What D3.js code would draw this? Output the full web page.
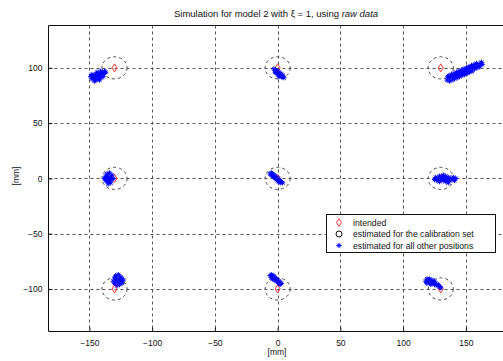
<!DOCTYPE html>
<html><head><meta charset="utf-8">
<script src="https://cdn.jsdelivr.net/npm/d3@7"></script>
<style>body{margin:0;background:#fff}svg{display:block}text{font-family:"Liberation Sans",Arial,sans-serif;fill:#111}</style>
</head><body><svg id="c" width="503" height="361"></svg>
<script>
const xTicks = [-150,-100,-50,0,50,100,150];
const yTicks = [-100,-50,0,50,100];
const intendedX = [-130,0,130];
const intendedY = [100,0,-100];
const circleRadius = 10;
const legendLabels = ["intended","estimated for the calibration set","estimated for all other positions"];
// estimated for all other positions (blue stars), per cluster
const clusterTL = [[-149,92],[-148,90],[-147,93],[-146,91],[-145,89],[-145,94],[-144,92],[-143,90],[-143,95],[-142,93],[-141,91],[-140,94],[-140,96],[-139,92],[-138,95],[-138,97],[-146,88],[-142,89],[-147,91],[-144,96],[-141,97],[-148,94],[-137,96]];
const clusterTM = [[-3,99],[-2,98],[-2,96],[-1,97],[0,95],[0,97],[1,94],[1,96],[2,93],[2,95],[3,92],[3,94],[4,92],[5,91],[-1,95],[1,92],[4,93.5]];
const clusterTR = [[135,89],[135.5,92],[137,88],[137.5,91],[136.5,93],[139,89],[139.5,92],[138.5,94],[141,90],[141.5,93],[140.5,95],[143,91],[143.5,94],[142.5,96],[145,92],[145.5,95],[144.5,97],[147,93],[147.5,96],[146.5,98],[149,94],[149.5,97],[148.5,99],[151,95],[151.5,98],[150.5,100],[153,96],[153.5,99],[152.5,101],[155,97],[155.5,100],[154.5,102],[157,99],[157.5,101],[156.5,103],[159,100],[159.5,102],[158.5,104],[161,101],[161.5,104],[163,103],[162.5,105]];
const clusterML = [[-138,0],[-137,2],[-137,-2],[-136,4],[-136,0],[-135,-3],[-135,2],[-134,5],[-134,-1],[-133,1],[-133,-4],[-132,3],[-132,-1],[-131,0],[-135,-5],[-136,-2]];
const clusterC = [[-6,4],[-5,5],[-5,3],[-4,4],[-4,2],[-3,3],[-3,1],[-2,2],[-2,0],[-1,1],[-1,-1],[0,0],[0,-2],[1,-1],[1,-3],[2,-2],[2,-4],[3,-3],[4,-4]];
const clusterMR = [[125,-1],[126,1],[127,-2],[128,0],[129,2],[129,-3],[130,-1],[131,1],[132,-2],[133,0],[134,2],[134,-3],[135,-1],[136,1],[137,-2],[138,0],[139,-1],[140,1],[141,-2],[142,0],[132,3],[136,-4]];
const clusterBL = [[-131,-93],[-130,-90],[-130,-95],[-129,-88],[-129,-92],[-128,-97],[-128,-90],[-127,-94],[-127,-87],[-126,-91],[-126,-96],[-125,-89],[-125,-93],[-124,-91],[-124,-95],[-123,-92],[-128,-93]];
const clusterBM = [[-6,-88],[-5,-87],[-5,-90],[-4,-89],[-3,-88],[-3,-91],[-2,-90],[-2,-92],[-1,-91],[-1,-93],[0,-92],[0,-94],[1,-93],[1,-95],[2,-94],[2,-96],[3,-95],[-4,-91]];
const clusterBR = [[118,-93],[119,-91],[119,-95],[120,-92],[121,-94],[121,-91],[122,-93],[123,-95],[123,-92],[124,-94],[125,-96],[125,-93],[126,-95],[127,-97],[128,-96],[129,-98],[130,-99],[122,-96]];

const svg = d3.select("#c");
const L=48.5, R=506, T=25.5, B=331.5;
const x = d3.scaleLinear().domain([-182.6,182]).range([L,R]);
const y = d3.scaleLinear().domain([-138.5,138.3]).range([B,T]);

// grid
const g = svg.append("g");
g.selectAll(".gx").data(xTicks).join("line")
 .attr("x1",d=>Math.round(x(d))+0.5).attr("x2",d=>Math.round(x(d))+0.5).attr("y1",T).attr("y2",B)
 .attr("stroke","#555").attr("stroke-dasharray","3,3");
g.selectAll(".gy").data(yTicks).join("line")
 .attr("y1",d=>Math.round(y(d))+0.5).attr("y2",d=>Math.round(y(d))+0.5).attr("x1",L).attr("x2",R)
 .attr("stroke","#555").attr("stroke-dasharray","3,3");

// axes
const xAxis = d3.axisBottom(x).tickValues(xTicks).tickSize(-4).tickPadding(8).tickFormat(d3.format("d"));
const yAxis = d3.axisLeft(y).tickValues(yTicks).tickSize(-4).tickPadding(6).tickFormat(d3.format("d"));
const ax = svg.append("g").attr("transform",`translate(0,${B})`).call(xAxis);
const ay = svg.append("g").attr("transform",`translate(${L},0)`).call(yAxis);
[ax,ay].forEach(a=>{a.select(".domain").remove();a.selectAll("line").attr("stroke","#111");a.selectAll("text").attr("font-size",8.5).attr("fill","#111").style("font-family",'"Liberation Sans",Arial,sans-serif');});
ax.selectAll("text").attr("dy","0.71em");
// box
svg.append("path").attr("d",`M${R},${T}H${L}V${B}H${R}`).attr("fill","none").attr("stroke","#111");

const positions = [];
intendedY.forEach(py=>intendedX.forEach(px=>positions.push([px,py])));

// circles
svg.append("g").selectAll("ellipse").data(positions).join("ellipse")
 .attr("cx",d=>x(d[0])).attr("cy",d=>y(d[1]))
 .attr("rx",d=>x(d[0]+circleRadius)-x(d[0])).attr("ry",d=>y(d[1])-y(d[1]+circleRadius))
 .attr("fill","none").attr("stroke","#444").attr("stroke-dasharray","3,3");

const diamond = (cx,cy)=>`M${cx},${cy-4}L${cx+2.5},${cy}L${cx},${cy+4}L${cx-2.5},${cy}Z`;
svg.append("g").selectAll("path").data(positions).join("path")
 .attr("d",d=>diamond(x(d[0]),y(d[1]))).attr("fill","none").attr("stroke","#f33").attr("stroke-width",1);

const star = (cx,cy,s)=>`M${cx-s},${cy}H${cx+s}M${cx},${cy-s}V${cy+s}M${cx-s*0.7},${cy-s*0.7}L${cx+s*0.7},${cy+s*0.7}M${cx-s*0.7},${cy+s*0.7}L${cx+s*0.7},${cy-s*0.7}`;
const all = [].concat(clusterTL,clusterTM,clusterTR,clusterML,clusterC,clusterMR,clusterBL,clusterBM,clusterBR);
svg.append("g").selectAll("path").data(all).join("path")
 .attr("d",d=>star(x(d[0]),y(d[1]),2.6)).attr("fill","none").attr("stroke","#00f").attr("stroke-width",1);

// title & labels
const title = svg.append("text").attr("x",276).attr("y",17).attr("text-anchor","middle").attr("font-size",9.5);
title.append("tspan").text("Simulation for model 2 with ξ = 1, using ");
title.append("tspan").attr("font-style","italic").text("raw data");
svg.append("text").attr("x",277).attr("y",355).attr("text-anchor","middle").attr("font-size",8.5).text("[mm]");
svg.append("text").attr("transform","translate(19,176) rotate(-90)").attr("text-anchor","middle").attr("font-size",8.5).text("[mm]");

// legend
const lg = svg.append("g");
lg.append("rect").attr("x",326.5).attr("y",214.5).attr("width",169).attr("height",38).attr("fill","#fff").attr("stroke","#111");
const ly = [222.5,234,245.5];
lg.append("path").attr("d",diamond(339,ly[0])).attr("fill","none").attr("stroke","#f33");
lg.append("circle").attr("cx",339).attr("cy",ly[1]).attr("r",3).attr("fill","none").attr("stroke","#111");
lg.append("path").attr("d",star(339,ly[2],2.6)).attr("fill","none").attr("stroke","#00f");
lg.selectAll("text").data(legendLabels).join("text").attr("x",353).attr("y",(d,i)=>ly[i]+3).attr("font-size",8.7).text(d=>d);
</script></body></html>
